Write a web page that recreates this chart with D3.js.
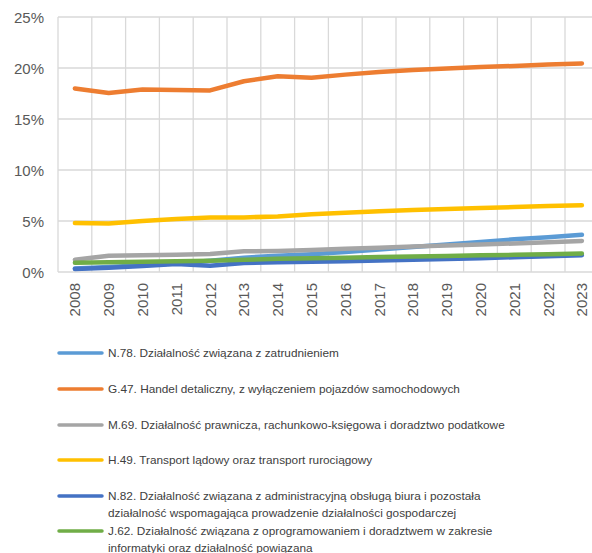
<!DOCTYPE html>
<html>
<head>
<meta charset="utf-8">
<script src="https://cdn.jsdelivr.net/npm/d3@7/dist/d3.min.js"></script>
<style>
  html, body { margin: 0; padding: 0; background: #fff; }
  svg { display: block; }
  .tick-label { font-family: "Liberation Sans", Arial, sans-serif; font-size: 15px; fill: #595959; }
  .legend-label { font-family: "Liberation Sans", Arial, sans-serif; font-size: 11.8px; fill: #404040; }
</style>
</head>
<body>
<svg id="chart" width="592" height="553"></svg>
<script>
// Years on the category axis
const years = [2008, 2009, 2010, 2011, 2012, 2013, 2014, 2015,
               2016, 2017, 2018, 2019, 2020, 2021, 2022, 2023];

// Share of each section (per cent)
const n78 = [0.35, 0.5, 0.65, 0.85, 1.1, 1.4, 1.6, 1.75, 1.95, 2.2, 2.45, 2.7, 2.95, 3.2, 3.4, 3.65];
const g47 = [18.0, 17.55, 17.9, 17.85, 17.8, 18.7, 19.2, 19.05, 19.35, 19.6, 19.8, 19.95, 20.1, 20.2, 20.35, 20.45];
const m69 = [1.2, 1.6, 1.63, 1.7, 1.76, 2.03, 2.06, 2.16, 2.27, 2.38, 2.5, 2.6, 2.7, 2.8, 2.92, 3.05];
const h49 = [4.8, 4.75, 5.0, 5.2, 5.35, 5.35, 5.45, 5.65, 5.8, 5.95, 6.08, 6.18, 6.27, 6.37, 6.47, 6.54];
const n82 = [0.3, 0.42, 0.58, 0.78, 0.62, 0.88, 0.95, 1.0, 1.06, 1.12, 1.2, 1.28, 1.36, 1.45, 1.55, 1.65];
const j62 = [0.9, 0.95, 1.0, 1.05, 1.1, 1.2, 1.3, 1.35, 1.4, 1.48, 1.53, 1.58, 1.63, 1.68, 1.74, 1.82];

// Y axis ticks
const yTicks = [0, 5, 10, 15, 20, 25];

// Series names (legend text lines)
const seriesNames = [
  ["N.78. Działalność związana z zatrudnieniem"],
  ["G.47. Handel detaliczny, z wyłączeniem pojazdów samochodowych"],
  ["M.69. Działalność prawnicza, rachunkowo-księgowa i doradztwo podatkowe"],
  ["H.49. Transport lądowy oraz transport rurociągowy"],
  ["N.82. Działalność związana z administracyjną obsługą biura i pozostała",
   "działalność wspomagająca prowadzenie działalności gospodarczej"],
  ["J.62. Działalność związana z oprogramowaniem i doradztwem w zakresie",
   "informatyki oraz działalność powiązana"]
];
const seriesColors = ["#5B9BD5", "#ED7D31", "#A5A5A5", "#FFC000", "#4472C4", "#70AD47"];
const seriesValues = [n78, g47, m69, h49, n82, j62];

const series = seriesNames.map((name, i) => ({
  name, color: seriesColors[i],
  values: years.map((y, j) => ({ year: y, value: seriesValues[i][j] }))
}));

const svg = d3.select("#chart");

const plot = { left: 58, top: 17, bottom: 272, step: 33.8 };
plot.right = plot.left + plot.step * years.length;

const x = d3.scaleBand().domain(years).range([plot.left, plot.right]).padding(0);
const y = d3.scaleLinear().domain([0, 25]).range([plot.bottom, plot.top]);

// Gridlines
const grid = svg.append("g").attr("stroke", "#d9d9d9").attr("stroke-width", 1.3);
grid.selectAll("line.h").data(yTicks).join("line")
  .attr("x1", plot.left).attr("x2", plot.right)
  .attr("y1", d => y(d)).attr("y2", d => y(d));
grid.selectAll("line.v").data(years.concat([null])).join("line")
  .attr("x1", (d, i) => plot.left + i * x.bandwidth())
  .attr("x2", (d, i) => plot.left + i * x.bandwidth())
  .attr("y1", plot.top).attr("y2", plot.bottom);

// Y axis labels
const yAxis = svg.append("g")
  .attr("transform", `translate(${plot.left},0)`)
  .call(d3.axisLeft(y).tickValues(yTicks).tickSize(0).tickPadding(14).tickFormat(d => d + "%"));
yAxis.select(".domain").remove();
yAxis.selectAll("text").attr("class", "tick-label").attr("font-family", null).attr("font-size", null)
  .attr("fill", null).attr("dy", "0.36em");

// X axis labels (rotated)
const xAxis = svg.append("g")
  .attr("transform", `translate(0,${plot.bottom})`)
  .call(d3.axisBottom(x).tickSize(0).tickPadding(0));
xAxis.select(".domain").remove();
xAxis.selectAll("text")
  .attr("class", "tick-label").attr("font-family", null).attr("font-size", null).attr("fill", null)
  .attr("text-anchor", "end")
  .attr("transform", "translate(0,11) rotate(-90)")
  .attr("x", 0).attr("y", 0).attr("dy", "0.36em");

// Lines
const line = d3.line()
  .x(d => x(d.year) + x.bandwidth() / 2)
  .y(d => y(d.value));

svg.append("g").selectAll("path").data(series).join("path")
  .attr("d", d => line(d.values))
  .attr("fill", "none")
  .attr("stroke", d => d.color)
  .attr("stroke-width", 4.5)
  .attr("stroke-linecap", "round")
  .attr("stroke-linejoin", "round");

// Legend
const rowY = [353, 389, 425, 460, 496, 531];
const legend = svg.append("g");
const item = legend.selectAll("g").data(series).join("g")
  .attr("transform", (d, i) => `translate(0,${rowY[i]})`);
item.append("line")
  .attr("x1", 59).attr("x2", 102).attr("y1", 0).attr("y2", 0)
  .attr("stroke", d => d.color).attr("stroke-width", 3.5).attr("stroke-linecap", "round");
item.append("text").attr("class", "legend-label")
  .attr("x", 108).attr("y", 0)
  .selectAll("tspan").data(d => d.name).join("tspan")
  .attr("x", 108).attr("dy", (d, i) => i === 0 ? "0.35em" : "16.7px")
  .text(d => d);
</script>
</body>
</html>
